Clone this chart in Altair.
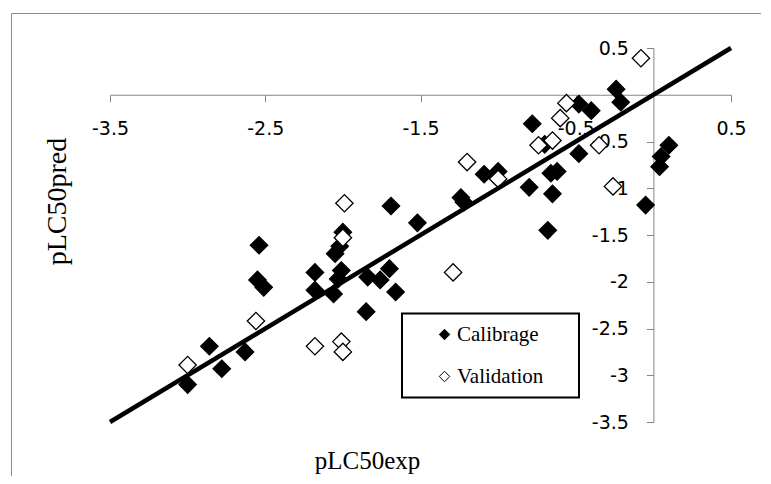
import altair as alt
import pandas as pd

# Calibrage (filled diamonds)
cal_x = [-3.00, -2.86, -2.78, -2.63, -2.54, -2.55, -2.51, -2.18, -2.18, -2.06,
         -2.05, -2.02, -2.00, -2.01, -2.03, -1.84, -1.76, -1.70, -1.66, -1.85,
         -1.69, -1.52, -1.24, -1.22, -1.09, -1.00, -0.80, -0.65, -0.68, -0.66,
         -0.62, -0.78, -0.70, -0.48, -0.48, -0.40, -0.24, -0.21, 0.10, 0.05,
         0.04, -0.05]
cal_y = [-3.10, -2.69, -2.93, -2.75, -1.61, -1.98, -2.06, -1.90, -2.09, -2.13,
         -1.70, -1.62, -1.47, -1.88, -1.97, -1.95, -1.98, -1.86, -2.11, -2.32,
         -1.19, -1.37, -1.10, -1.15, -0.85, -0.82, -0.99, -1.06, -1.45, -0.84,
         -0.82, -0.31, -0.53, -0.63, -0.10, -0.17, 0.06, -0.08, -0.54, -0.66,
         -0.77, -1.18]

# Validation (open diamonds)
val_x = [-3.00, -2.56, -2.18, -2.01, -2.00, -1.99, -2.00, -1.29, -1.20, -1.00,
         -0.74, -0.65, -0.60, -0.56, -0.35, -0.26, -0.08]
val_y = [-2.89, -2.42, -2.69, -2.64, -2.75, -1.16, -1.53, -1.90, -0.72, -0.90,
         -0.54, -0.49, -0.25, -0.09, -0.54, -0.98, 0.39]

series_names = ["Calibrage", "Validation"]

# trend line (y = x)
line_x = [-3.5, 0.5]
line_y = [-3.5, 0.5]

x_ticks = [-3.5, -2.5, -1.5, -0.5, 0.5]
y_ticks = [0.5, -0.5, -1, -1.5, -2, -2.5, -3, -3.5]

pts = pd.DataFrame({
    "x": cal_x + val_x,
    "y": cal_y + val_y,
    "serie": [series_names[0]] * len(cal_x) + [series_names[1]] * len(val_x),
    "ord": list(range(len(cal_x) + len(val_x))),
})
line_df = pd.DataFrame({"x": line_x, "y": line_y})

W, H = 621, 374
AX = "#868686"

xscale = alt.Scale(domain=[-3.5, 0.5], nice=False, zero=False)
yscale = alt.Scale(domain=[-3.5, 0.5], nice=False, zero=False)

xaxis = alt.Axis(
    orient="bottom", offset=-327.25, values=x_ticks, grid=False,
    domainColor=AX, tickColor=AX, tickSize=7, domainWidth=1,
    labelExpr="toString(datum.value)", labelFont="DejaVu Sans", labelFontSize=19,
    labelColor="black", labelPadding=27, labelBaseline="middle", labelFlush=False,
    labelOverlap=False,
    title="pLC50exp", titleFont="Liberation Serif", titleFontSize=25,
    titleFontWeight="normal", titleColor="black", titleX=257, titleY=374,
    titleAlign="center", titleBaseline="alphabetic",
)
yaxis = alt.Axis(
    orient="left", offset=-543.4, values=y_ticks, grid=False,
    domainColor=AX, tickColor=AX, tickSize=7, domainWidth=1,
    labelExpr="toString(datum.value)", labelFont="DejaVu Sans", labelFontSize=19,
    labelColor="black", labelPadding=18, labelFlush=False, labelOverlap=False,
    title="pLC50pred", titleFont="Liberation Serif", titleFontSize=28,
    titleFontWeight="normal", titleColor="black", titleX=-588, titleY=153,
    titleAlign="center", titleBaseline="alphabetic", titleAngle=270,
)

frame = alt.Chart(pd.DataFrame({"a": [0]})).mark_rect(
    fill=None, stroke="#8c8c8c", strokeWidth=1
).encode(
    x=alt.value(-98.5), y=alt.value(-34.5), x2=alt.value(760), y2=alt.value(520)
)

legend_box = alt.Chart(pd.DataFrame({"a": [0]})).mark_rect(
    fill="white", stroke="black", strokeWidth=2
).encode(
    x=alt.value(292), y=alt.value(265.5), x2=alt.value(469), y2=alt.value(349.5)
)

points = alt.Chart(pts).mark_point(
    shape="diamond", filled=True, size=300, stroke="black", strokeWidth=1.3,
    opacity=1
).encode(
    x=alt.X("x:Q", scale=xscale, axis=xaxis),
    y=alt.Y("y:Q", scale=yscale, axis=yaxis),
    fill=alt.Fill(
        "serie:N",
        scale=alt.Scale(domain=series_names, range=["black", "white"]),
        legend=alt.Legend(
            title=None, orient="none", legendX=292, legendY=265,
            symbolType="diamond", symbolSize=110, symbolStrokeColor="black",
            symbolStrokeWidth=1, labelFont="Liberation Serif", labelFontSize=21,
            labelColor="black", rowPadding=20, padding=11, symbolOffset=21,
            labelOffset=2,
        ),
    ),
    order=alt.Order("ord:Q"),
)

trend = alt.Chart(line_df).mark_line(color="black", strokeWidth=4.5).encode(
    x=alt.X("x:Q", scale=xscale),
    y=alt.Y("y:Q", scale=yscale),
)

chart = alt.layer(frame, points, trend, legend_box).properties(
    width=W, height=H,
    autosize=alt.AutoSizeParams(type="none"),
    padding={"left": 102, "top": 40, "right": 30, "bottom": 54},
).configure_view(stroke=None)

chart.save("out.html", embed_options={"renderer": "svg", "actions": False})
